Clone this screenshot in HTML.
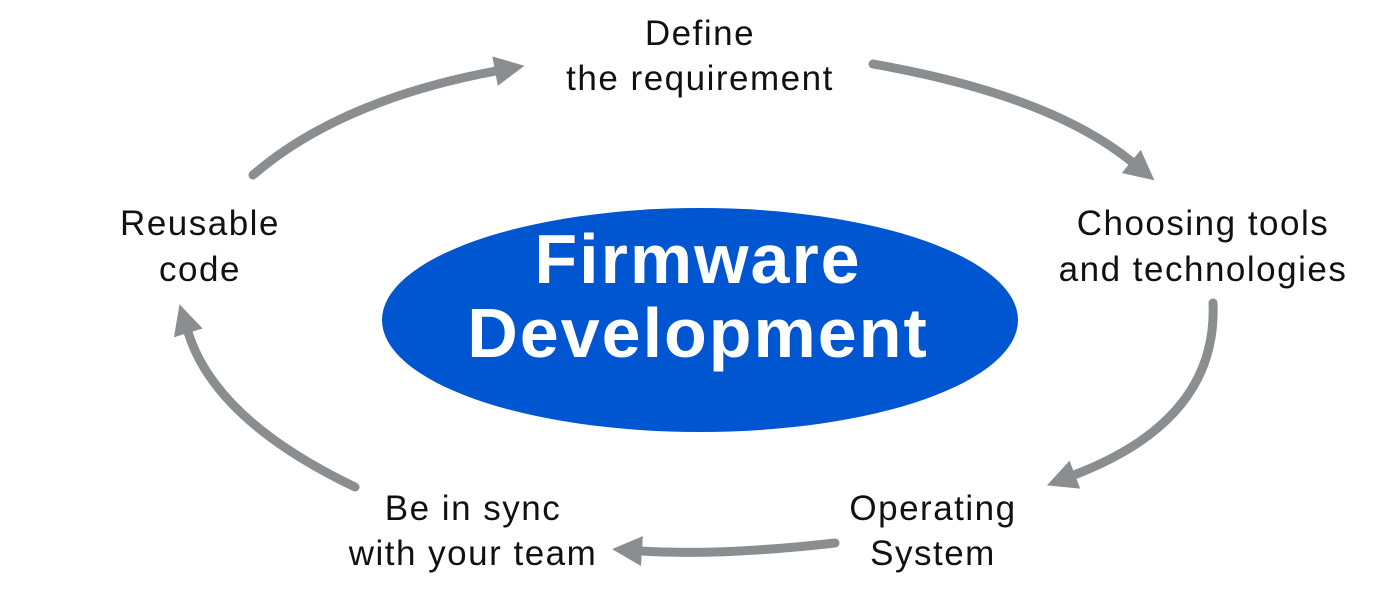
<!DOCTYPE html>
<html><head><meta charset="utf-8"><style>
html,body{margin:0;padding:0;background:#fff;}
svg{display:block;}
</style></head><body>
<svg width="1400" height="600" viewBox="0 0 1400 600" xmlns="http://www.w3.org/2000/svg">
<defs>
<marker id="ah" markerUnits="userSpaceOnUse" markerWidth="40" markerHeight="40" refX="1" refY="15" orient="auto">
<path d="M0,0 L30,15 L0,30 Z" fill="#8b8e90"/>
</marker>
</defs>
<ellipse cx="700" cy="320" rx="318" ry="112" fill="#0055d0"/>
<g font-family="Liberation Sans, sans-serif" font-weight="bold" font-size="70" fill="#fff" text-anchor="middle" letter-spacing="2">
<text x="698" y="283">Firmware</text>
<text x="698" y="357">Development</text>
</g>
<g fill="none" stroke="#8b8e90" stroke-width="9" stroke-linecap="round" marker-end="url(#ah)">
<path d="M253,175 Q340,100 496,71"/>
<path d="M873,64 Q1050,95 1132,162"/>
<path d="M1213,303 Q1218,420 1074,475"/>
<path d="M835,543 Q720,556 641,551"/>
<path d="M355,487 Q215,420 188,332"/>
</g>
<g font-family="Liberation Sans, sans-serif" font-size="35" fill="#111" text-anchor="middle" letter-spacing="1.5">
<text x="700" y="45">Define</text>
<text x="700" y="90">the requirement</text>
<text x="1203" y="235">Choosing tools</text>
<text x="1203" y="281">and technologies</text>
<text x="933" y="520">Operating</text>
<text x="933" y="565">System</text>
<text x="473" y="520">Be in sync</text>
<text x="473" y="565">with your team</text>
<text x="200" y="235">Reusable</text>
<text x="200" y="281">code</text>
</g>
</svg>
</body></html>
